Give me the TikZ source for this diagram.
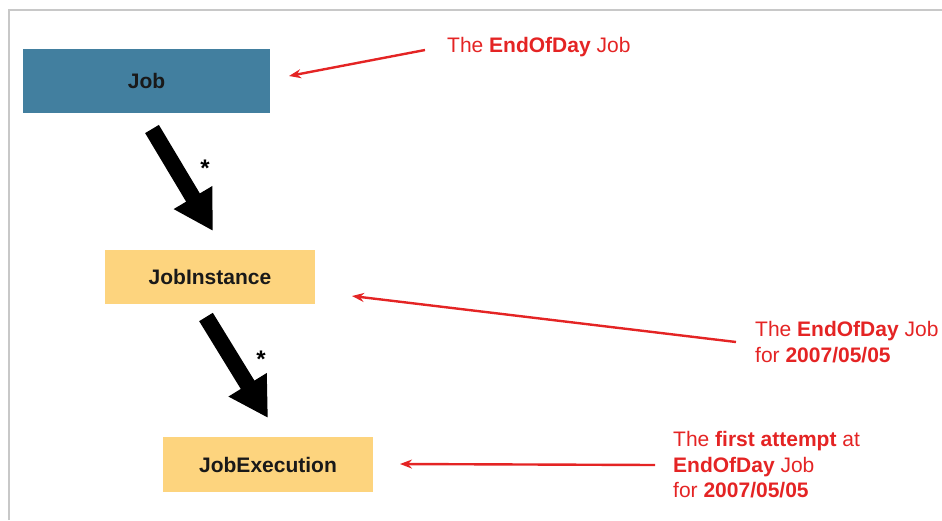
\documentclass[tikz,border=0pt]{standalone}
\usepackage{fontspec}
\setmainfont{Liberation Sans}
\usetikzlibrary{arrows.meta}
\definecolor{jobblue}{HTML}{427F9F}
\definecolor{boxyellow}{HTML}{FDD47E}
\definecolor{notered}{HTML}{E42424}
\definecolor{framegray}{HTML}{C8C8C8}
\tikzset{
  box/.style={inner sep=0pt, font=\fontsize{21}{24}\selectfont\bfseries, text=black!90},
  note/.style={anchor=west, align=left, inner sep=0pt, text=notered, font=\fontsize{21}{25.5}\selectfont},
  bigarrow/.style={line width=16pt, -{Triangle[width=42pt,length=39pt]}},
  redarrow/.style={draw=notered, line width=2.4pt, -{Stealth[length=12pt,width=9pt]}},
  star/.style={font=\fontsize{24}{24}\selectfont\bfseries}
}
\begin{document}
\begin{tikzpicture}[x=1pt,y=-1pt]
\useasboundingbox (0,0) rectangle (942,520);
% frame
\draw[framegray, line width=1.5pt] (9,520) -- (9,10) -- (942,10);
% boxes
\node[box, fill=jobblue, minimum width=247pt, minimum height=64pt] (job) at (146.5,81) {Job};
\node[box, fill=boxyellow, minimum width=210pt, minimum height=54pt] (inst) at (210,277) {JobInstance};
\node[box, fill=boxyellow, minimum width=210pt, minimum height=55pt] (exec) at (268,464.5) {JobExecution};
% big arrows
\coordinate (a1s) at (152,129);
\coordinate (a1e) at (213,231);
\coordinate (a2s) at (206,317);
\coordinate (a2e) at (268,418);
\draw[bigarrow] (a1s) -- (a1e);
\draw[bigarrow] (a2s) -- (a2e);
\node[star] (s1) at (205,168) {*};
\node[star] (s2) at (261,359) {*};
% notes
\node[note] (n1) at (447,47) {The \textbf{EndOfDay} Job};
\node[note] (n2) at (755,342) {The \textbf{EndOfDay} Job\\for \textbf{2007/05/05}};
\node[note] (n3) at (673,465) {The \textbf{first attempt} at\\\textbf{EndOfDay} Job\\for \textbf{2007/05/05}};
% red arrows
\coordinate (r1s) at (425,50);
\coordinate (r1e) at (289,76);
\coordinate (r2s) at (736,342);
\coordinate (r2e) at (352,296);
\coordinate (r3s) at (655,465);
\coordinate (r3e) at (400,464);
\draw[redarrow] (r1s) -- (r1e);
\draw[redarrow] (r2s) -- (r2e);
\draw[redarrow] (r3s) -- (r3e);
\end{tikzpicture}
\end{document}
